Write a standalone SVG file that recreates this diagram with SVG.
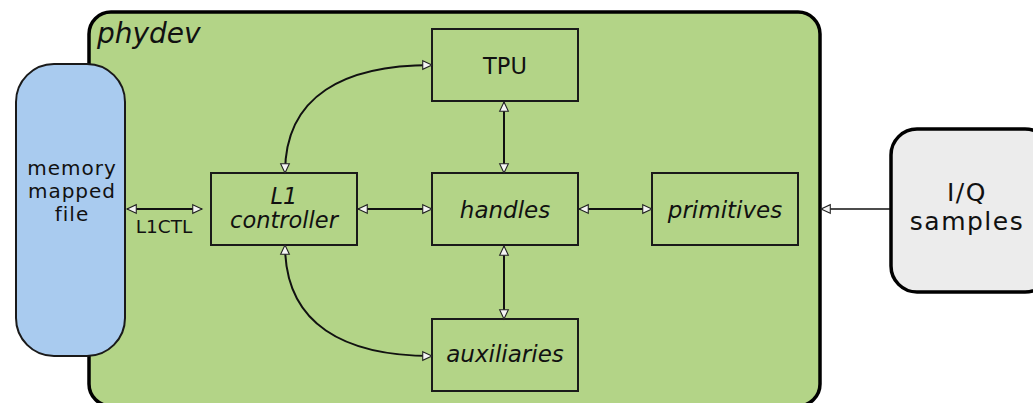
<svg xmlns="http://www.w3.org/2000/svg" width="1033" height="403" viewBox="0 0 1033 403">
<style>
text{font-family:"DejaVu Sans","Liberation Sans",sans-serif;fill:#111;text-anchor:middle}
.box{fill:none;stroke:#1a1a1a;stroke-width:2}
.it{font-style:italic}
.c{fill:none;stroke:#111;stroke-width:2}
.mm{font-size:20px;letter-spacing:1px}
.iq{font-size:25px;letter-spacing:1.5px}
</style>
<defs>
<marker id="ah" markerUnits="userSpaceOnUse" markerWidth="12" markerHeight="12" viewBox="-1 -1 11 10" refX="8.5" refY="4" orient="auto-start-reverse">
<path d="M0,0 L8.5,4 L0,8 z" fill="#f4f4f4" stroke="#222" stroke-width="1"/>
</marker>
</defs>
<g id="phydev">
<rect x="89" y="12" width="731" height="394" rx="22" fill="#b3d487" stroke="#000" stroke-width="3.5"/>
<text x="97" y="43" class="it" style="text-anchor:start;font-size:28px">phydev</text>
</g>
<g id="memory">
<rect x="16" y="64" width="109" height="292" rx="38" fill="#a9cbef" stroke="#1a1a1a" stroke-width="2"/>
<text x="72" y="175" class="mm">memory</text>
<text x="72" y="198" class="mm">mapped</text>
<text x="72" y="221" class="mm">file</text>
</g>
<g id="iq">
<rect x="891" y="129" width="160" height="163" rx="26" fill="#ececec" stroke="#000" stroke-width="3.5"/>
<text x="967" y="201" class="iq">I/Q</text>
<text x="967" y="230" class="iq">samples</text>
</g>
<g id="l1">
<rect class="box" x="211" y="173" width="146" height="72"/>
<text x="284" y="204" class="it" style="font-size:22.5px">L1</text>
<text x="284" y="228" class="it" style="font-size:22.5px">controller</text>
</g>
<g id="tpu">
<rect class="box" x="432" y="29" width="146" height="72"/>
<text x="505" y="74" style="font-size:22.5px">TPU</text>
</g>
<g id="handles">
<rect class="box" x="432" y="173" width="146" height="72"/>
<text x="505" y="218" class="it" style="font-size:23px">handles</text>
</g>
<g id="auxiliaries">
<rect class="box" x="432" y="319" width="146" height="72"/>
<text x="505" y="362" class="it" style="font-size:23px">auxiliaries</text>
</g>
<g id="primitives">
<rect class="box" x="652" y="173" width="146" height="72"/>
<text x="725" y="218" class="it" style="font-size:23px">primitives</text>
</g>
<g id="connectors">
<path class="c" d="M127,209 H202" marker-start="url(#ah)" marker-end="url(#ah)"/>
<text x="164" y="233" style="font-size:18.5px">L1CTL</text>
<path class="c" d="M358,209 H432" marker-start="url(#ah)" marker-end="url(#ah)"/>
<path class="c" d="M579,209 H652" marker-start="url(#ah)" marker-end="url(#ah)"/>
<path class="c" d="M504,102 V173" marker-start="url(#ah)" marker-end="url(#ah)"/>
<path class="c" d="M504,246 V319" marker-start="url(#ah)" marker-end="url(#ah)"/>
<path class="c" d="M285,173 C285,95 345,65 432,65" marker-start="url(#ah)" marker-end="url(#ah)"/>
<path class="c" d="M285,245 C285,325 345,356 432,356" marker-start="url(#ah)" marker-end="url(#ah)"/>
<path d="M890,209 H821" fill="none" stroke="#111" stroke-width="1.5" marker-end="url(#ah)"/>
</g>
</svg>
